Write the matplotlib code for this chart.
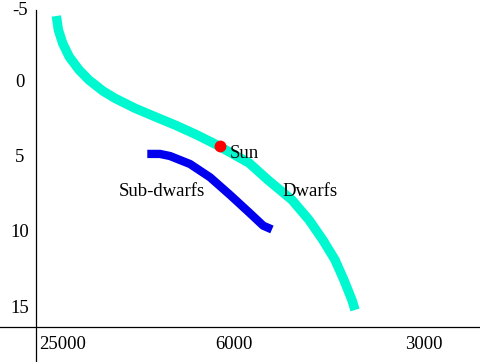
import matplotlib
matplotlib.use('Agg')
import matplotlib.pyplot as plt
from matplotlib.lines import Line2D
from matplotlib.transforms import ScaledTranslation

plt.rcParams['font.family'] = ['Liberation Serif', 'DejaVu Serif']

# temperature axis (sketch positions, not to scale) and labels
temp_ticks = [0, 1, 2.11]
temp_labels = ['25000', '6000', '3000']
mag_ticks = [-5, 0, 5, 10, 15]
mag_labels = ['-5', '0', '5', '10', '15']

# main sequence ("Dwarfs")
dwarf_x = [-0.039, -0.027, -0.002, 0.036, 0.094, 0.152, 0.234, 0.304, 0.421, 0.538, 0.655, 0.772,
           0.889, 1.088, 1.199, 1.339, 1.439, 1.520, 1.591, 1.643, 1.690, 1.708]
dwarf_y = [-4.26, -3.33, -2.45, -1.56, -0.68, -0.01, 0.72, 1.20, 1.86, 2.42, 2.97, 3.57,
           4.23, 5.49, 6.62, 7.94, 9.27, 10.60, 11.92, 13.25, 14.58, 15.24]

# sub-dwarfs
sub_x = [0.493, 0.567, 0.626, 0.743, 0.860, 0.977, 1.094, 1.171, 1.222]
sub_y = [4.89, 4.89, 5.03, 5.56, 6.44, 7.61, 8.83, 9.65, 9.90]

sun_x, sun_y = [0.918], [4.34]

fig = plt.figure(figsize=(4.8, 3.62), dpi=100)
ax = fig.add_axes([36 / 480, 35 / 362, 444 / 480, 327 / 362])

ax.plot(dwarf_x, dwarf_y, color='#00F8D0', lw=6.8, solid_capstyle='butt', solid_joinstyle='round')
ax.plot(sub_x, sub_y, color='#0000EE', lw=6.0, solid_capstyle='butt', solid_joinstyle='round')
ax.plot(sun_x, sun_y, 'o', color='#FF0000', markersize=8.5, markeredgewidth=0)

ax.text(0.977, 4.86, 'Sun', fontsize=13.5, ha='left', va='center')
ax.text(1.281, 7.41, 'Dwarfs', fontsize=13.5, ha='left', va='center')
ax.text(0.327, 7.41, 'Sub-dwarfs', fontsize=13.5, ha='left', va='center')

ax.set_xlim(-0.158, 2.439)
ax.set_ylim(16.37, -5.32)
ax.set_xticks(temp_ticks)
ax.set_xticklabels(temp_labels, fontsize=13.5)
ax.set_yticks(mag_ticks)
ax.set_yticklabels(mag_labels, fontsize=13.5, ha='center')
ax.tick_params(axis='x', length=0, pad=6.5)
ax.tick_params(axis='y', length=0, pad=11.5)
for s in ax.spines.values():
    s.set_visible(False)

# keep the top label inside the figure
top_lab = ax.yaxis.get_major_ticks()[0].label1
top_lab.set_transform(top_lab.get_transform() + ScaledTranslation(0, -0.04, fig.dpi_scale_trans))

# axis lines crossing like the original sketch
fig.add_artist(Line2D([36 / 480, 36 / 480], [0, 352 / 362], color='black', lw=0.9, transform=fig.transFigure))
fig.add_artist(Line2D([0, 1], [35 / 362, 35 / 362], color='black', lw=0.9, transform=fig.transFigure))

fig.savefig('out.png', dpi=100)
